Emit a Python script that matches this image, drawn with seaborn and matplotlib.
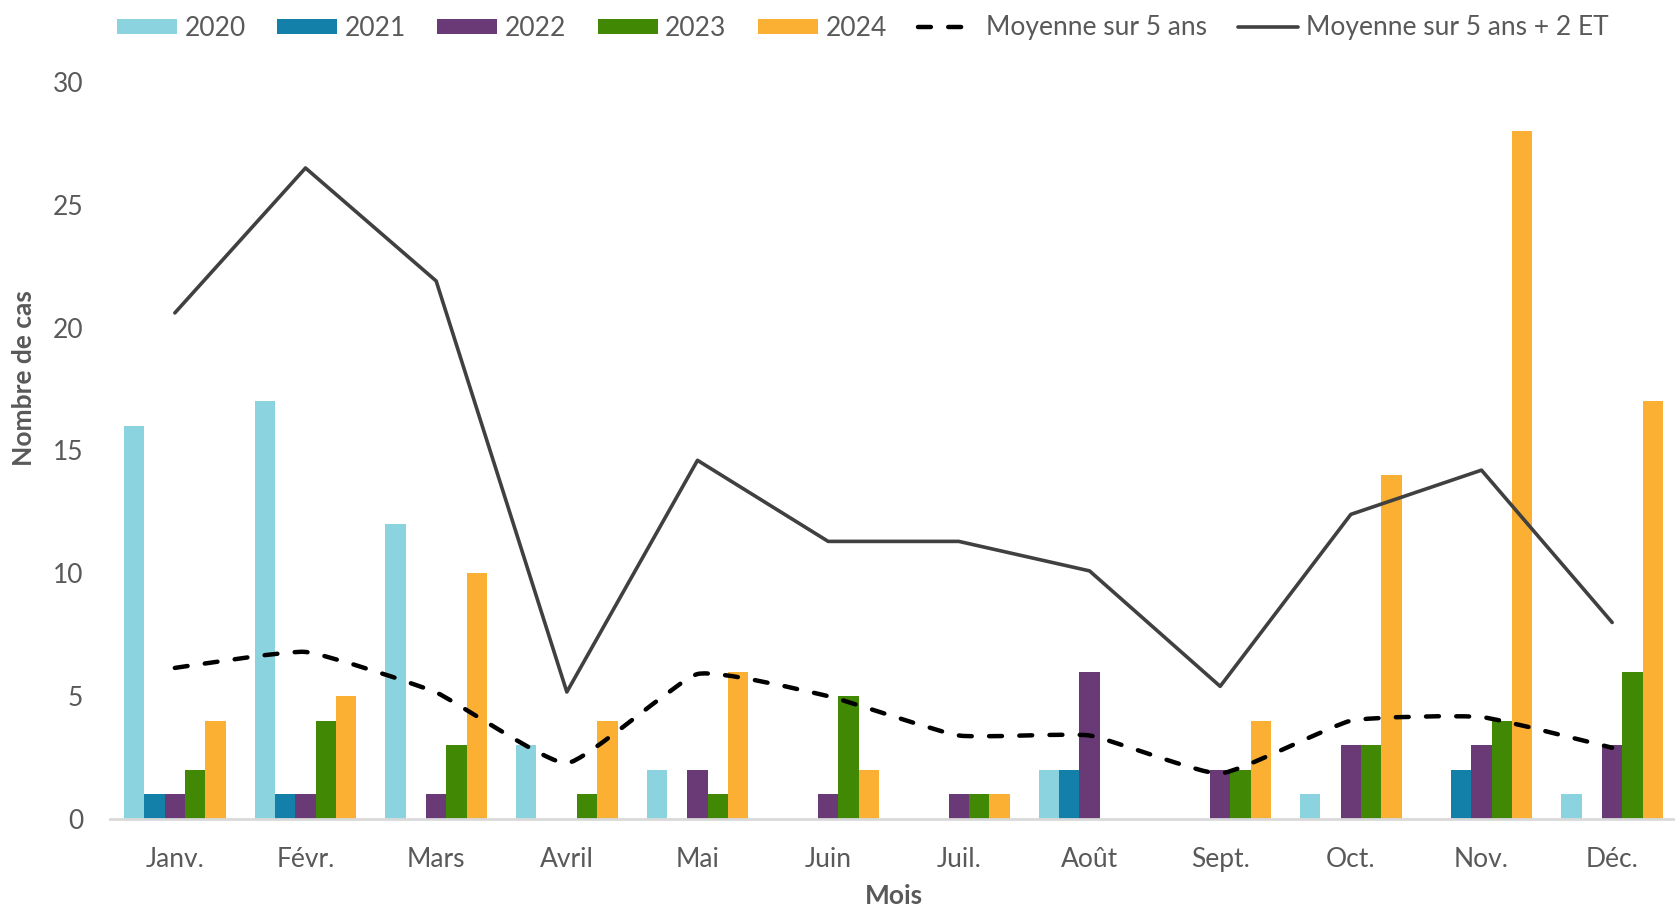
import numpy as np
import pandas as pd
import matplotlib
matplotlib.use('Agg')
import matplotlib.pyplot as plt
from matplotlib.path import Path
from matplotlib.patches import PathPatch, Patch
from matplotlib.lines import Line2D
import seaborn as sns

months = ['Janv.', 'Févr.', 'Mars', 'Avril', 'Mai', 'Juin',
          'Juil.', 'Août', 'Sept.', 'Oct.', 'Nov.', 'Déc.']
years = ['2020', '2021', '2022', '2023', '2024']

cas_2020 = [16, 17, 12, 3, 2, 0, 0, 2, 0, 1, 0, 1]
cas_2021 = [1, 1, 0, 0, 0, 0, 0, 2, 0, 0, 2, 0]
cas_2022 = [1, 1, 1, 0, 2, 1, 1, 6, 2, 3, 3, 3]
cas_2023 = [2, 4, 3, 1, 1, 5, 1, 0, 2, 3, 4, 6]
cas_2024 = [4, 5, 10, 4, 6, 2, 1, 0, 4, 14, 28, 17]

# moyenne sur 5 ans et seuil (moyenne + 2 ET)
moyenne = [6.15, 6.8, 5.15, 2.27, 5.9, 5.0, 3.4, 3.4, 1.85, 4.0, 4.15, 2.9]
seuil = [20.6, 26.5, 21.9, 5.17, 14.6, 11.3, 11.3, 10.1, 5.4, 12.4, 14.2, 8.0]

colors = ['#8BD4DF', '#1380A9', '#6A3A76', '#418805', '#FCB033']
grey = '#595959'
fs = 19

df = pd.DataFrame({
    'mois': months * 5,
    'annee': [y for y in years for _ in months],
    'cas': cas_2020 + cas_2021 + cas_2022 + cas_2023 + cas_2024,
})


def smooth_path(xs, ys, k=1 / 14):
    # courbe lissée (Bezier), tension faible comme dans Excel
    n = len(xs)
    verts = [(xs[0], ys[0])]
    codes = [Path.MOVETO]
    for i in range(n - 1):
        a = i - 1 if i > 0 else i
        b = i + 2 if i + 2 < n else i + 1
        c1 = (xs[i] + (xs[i + 1] - xs[a]) * k, ys[i] + (ys[i + 1] - ys[a]) * k)
        c2 = (xs[i + 1] - (xs[b] - xs[i]) * k, ys[i + 1] - (ys[b] - ys[i]) * k)
        verts += [c1, c2, (xs[i + 1], ys[i + 1])]
        codes += [Path.CURVE4] * 3
    return Path(verts, codes)


sns.set_style('white')
plt.rcParams['font.family'] = ['Lato', 'DejaVu Sans']

fig = plt.figure(figsize=(16.75, 9.11), dpi=100)
ax = fig.add_axes([109.5 / 1675, 92 / 911, 1568 / 1675, 737 / 911])

sns.barplot(data=df, x='mois', y='cas', hue='annee', order=months, hue_order=years,
            palette=colors, width=0.78, gap=0, saturation=1, legend=False,
            linewidth=0, ax=ax)

x = np.arange(len(months))
dash = (0, (2.9, 3.9))
ax.add_patch(PathPatch(smooth_path(x, moyenne), fill=False, edgecolor='black',
                       linewidth=3.2, linestyle=dash, capstyle='round', zorder=4))
ax.plot(x, seuil, color='#404040', linewidth=2.6, zorder=4)

ax.set_xlim(-0.5, 11.5)
ax.set_ylim(0, 30)
ax.set_yticks(range(0, 31, 5))
sns.despine(ax=ax, left=True)
ax.spines['bottom'].set_color('#D9D9D9')
ax.spines['bottom'].set_linewidth(2)
ax.tick_params(axis='both', length=0, labelsize=fs, labelcolor=grey)
ax.tick_params(axis='x', pad=20)
ax.tick_params(axis='y', pad=19)
ax.set_xlabel('Mois', fontsize=fs, fontweight='bold', color=grey, labelpad=9)
ax.set_ylabel('Nombre de cas', fontsize=fs, fontweight='bold', color=grey)
ax.yaxis.set_label_coords(-0.0466, 0.598)

handles = [Patch(facecolor=c, edgecolor='none') for c in colors]
handles.append(Line2D([], [], color='black', linewidth=3.2, linestyle=dash,
                      dash_capstyle='round'))
handles.append(Line2D([], [], color='#404040', linewidth=2.6))
labels = years + ['Moyenne sur 5 ans', 'Moyenne sur 5 ans + 2 ET']
leg = fig.legend(handles, labels, loc='center', bbox_to_anchor=(0.515, 1 - 28 / 911),
                 ncol=7, frameon=False, fontsize=fs, handlelength=2.27,
                 handleheight=0.5, handletextpad=0.28, columnspacing=1.2)
for t in leg.get_texts():
    t.set_color(grey)

fig.savefig('out.png', dpi=100)
